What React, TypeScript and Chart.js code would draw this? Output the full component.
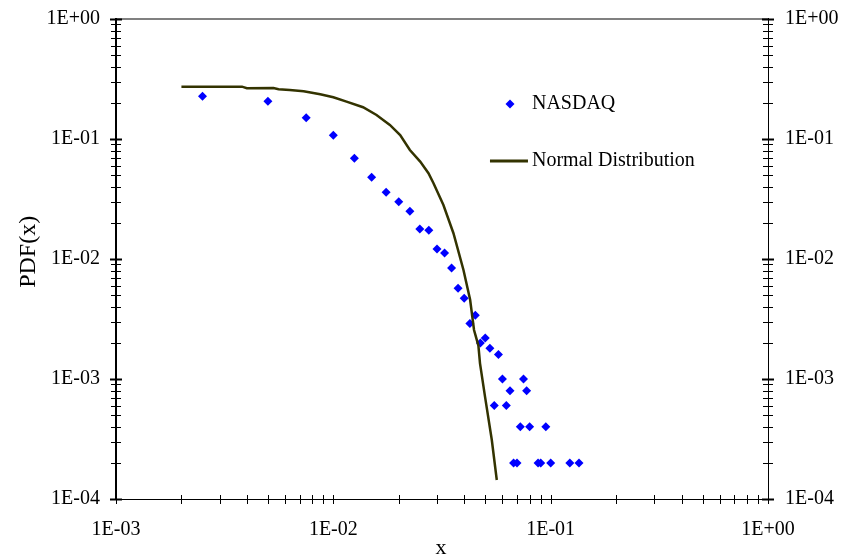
import React, { useEffect, useRef } from 'react';
import { Chart, registerables } from 'chart.js';

Chart.register(...registerables);

// ---- data ----
const nasdaqX = [
  0.0025, 0.005, 0.0075, 0.01, 0.0125, 0.015, 0.0175, 0.02, 0.0225, 0.025,
  0.0275, 0.03, 0.0325, 0.035, 0.0375, 0.04, 0.0425, 0.045, 0.0475, 0.05,
  0.0525, 0.055, 0.0575, 0.06, 0.0625, 0.065, 0.0675, 0.07, 0.0725, 0.075,
  0.0775, 0.08, 0.0875, 0.09, 0.095, 0.1, 0.1225, 0.135,
];
const nasdaqY = [
  0.227, 0.206, 0.1505, 0.1074, 0.069, 0.048, 0.036, 0.03, 0.025, 0.0178,
  0.0174, 0.0121, 0.0112, 0.0084, 0.0057, 0.0047, 0.0029, 0.0034, 0.002, 0.0022,
  0.0018, 0.0006, 0.0016, 0.001, 0.0006, 0.0008, 0.0002, 0.0002, 0.0004, 0.001,
  0.0008, 0.0004, 0.0002, 0.0002, 0.0004, 0.0002, 0.0002, 0.0002,
];
const normalX = [
  0.002, 0.0038, 0.004, 0.0053, 0.0056, 0.0063, 0.0073, 0.0087, 0.01, 0.0115,
  0.0137, 0.0158, 0.0182, 0.0203, 0.0225, 0.0251, 0.0274, 0.0289, 0.0321, 0.0357,
  0.0397, 0.0426, 0.0444, 0.0465, 0.0473, 0.0499, 0.0536, 0.0565,
];
const normalY = [
  0.273, 0.273, 0.265, 0.266, 0.26, 0.256, 0.25, 0.236, 0.223, 0.205,
  0.184, 0.1585, 0.131, 0.108, 0.081, 0.0648, 0.0519, 0.0428, 0.0282, 0.0164,
  0.0081, 0.00457, 0.00256, 0.0019, 0.00135, 0.00071, 0.00031, 0.000144,
];
const seriesNames = ['NASDAQ', 'Normal Distribution'];
const xTickValues = [1e-3, 1e-2, 1e-1, 1];
const yTickValues = [1e-4, 1e-3, 1e-2, 1e-1, 1];
const xTitle = 'x';
const yTitle = 'PDF(x)';

const FONT = "'Liberation Serif', 'Times New Roman', serif";
const BLUE = '#0000FF';
const OLIVE = '#333300';

const fmt = (v: number) => {
  const e = Math.round(Math.log10(v));
  const sign = e < 0 ? '-' : '+';
  return `1E${sign}${String(Math.abs(e)).padStart(2, '0')}`;
};

const decorPlugin = {
  id: 'decor',
  beforeDatasetsDraw(chart: any) {
    const { ctx, chartArea } = chart;
    const { left, right, top, bottom } = chartArea;
    const xs = chart.scales.x;
    const ys = chart.scales.y;
    ctx.save();
    // top border (gray)
    ctx.strokeStyle = '#808080';
    ctx.lineWidth = 2;
    ctx.beginPath();
    ctx.moveTo(left, top);
    ctx.lineTo(right, top);
    ctx.stroke();

    ctx.strokeStyle = '#000';
    // bottom axis
    ctx.lineWidth = 1;
    ctx.beginPath();
    ctx.moveTo(left, bottom + 0.5);
    ctx.lineTo(right, bottom + 0.5);
    ctx.stroke();
    // right axis
    ctx.beginPath();
    ctx.moveTo(right + 0.5, top - 1);
    ctx.lineTo(right + 0.5, bottom);
    ctx.stroke();
    // left axis
    ctx.lineWidth = 2;
    ctx.beginPath();
    ctx.moveTo(left, top - 1);
    ctx.lineTo(left, bottom + 1);
    ctx.stroke();

    const logVals = (min: number, max: number) => {
      const out: number[] = [];
      for (let e = Math.floor(Math.log10(min)); e <= Math.ceil(Math.log10(max)); e++) {
        for (let k = 1; k <= 9; k++) {
          const v = k * Math.pow(10, e);
          if (v >= min * 0.999 && v <= max * 1.001) out.push(v);
        }
      }
      return out;
    };

    ctx.lineWidth = 1;
    // x ticks
    for (const v of logVals(xs.min, xs.max)) {
      const p = Math.round(xs.getPixelForValue(v)) + 0.5;
      ctx.beginPath();
      ctx.moveTo(p, bottom - 4);
      ctx.lineTo(p, bottom + 5);
      ctx.stroke();
    }
    // y ticks on both axes
    for (const v of logVals(ys.min, ys.max)) {
      const p = Math.round(ys.getPixelForValue(v)) + 0.5;
      const major = Math.abs(Math.log10(v) - Math.round(Math.log10(v))) < 1e-6;
      const len = major ? 6 : 5;
      ctx.lineWidth = major ? 2 : 1;
      ctx.beginPath();
      ctx.moveTo(left - len, p);
      ctx.lineTo(left + len, p);
      ctx.stroke();
      ctx.beginPath();
      ctx.moveTo(right - len, p);
      ctx.lineTo(right + len, p);
      ctx.stroke();
    }
    ctx.restore();
  },
  afterDraw(chart: any) {
    const { ctx, chartArea } = chart;
    const { left, right, top, bottom } = chartArea;
    const w = right - left;
    const h = bottom - top;
    ctx.save();
    ctx.fillStyle = '#000';
    // axis titles
    ctx.font = `22px ${FONT}`;
    ctx.textAlign = 'center';
    ctx.textBaseline = 'alphabetic';
    ctx.fillText(xTitle, left + w * 0.5 - 1, 554);
    ctx.save();
    ctx.translate(35, top + h * 0.485);
    ctx.rotate(-Math.PI / 2);
    ctx.font = `24px ${FONT}`;
    ctx.fillText(yTitle, 0, 0);
    ctx.restore();

    // legend
    const lx = left + w * 0.638;
    const ly1 = top + h * 0.177;
    const ly2 = top + h * 0.296;
    ctx.font = `20px ${FONT}`;
    ctx.textAlign = 'left';
    ctx.textBaseline = 'middle';
    // NASDAQ marker
    const mx = lx - 22;
    ctx.fillStyle = BLUE;
    ctx.beginPath();
    ctx.moveTo(mx - 4.5, ly1);
    ctx.lineTo(mx, ly1 - 4.5);
    ctx.lineTo(mx + 4.5, ly1);
    ctx.lineTo(mx, ly1 + 4.5);
    ctx.closePath();
    ctx.fill();
    ctx.fillStyle = '#000';
    ctx.fillText(seriesNames[0], lx, ly1);
    // Normal line
    ctx.strokeStyle = OLIVE;
    ctx.lineWidth = 3;
    ctx.beginPath();
    ctx.moveTo(lx - 42, ly2);
    ctx.lineTo(lx - 4, ly2);
    ctx.stroke();
    ctx.fillText(seriesNames[1], lx, ly2);
    ctx.restore();
  },
};

export default function App() {
  const ref = useRef<HTMLCanvasElement | null>(null);
  useEffect(() => {
    if (!ref.current) return;
    const tickFont = { family: FONT, size: 20 };
    const chart = new Chart(ref.current, {
      type: 'scatter',
      data: {
        datasets: [
          {
            label: seriesNames[0],
            data: nasdaqX.map((x, i) => ({ x, y: nasdaqY[i] })),
            pointStyle: 'rectRot',
            pointRadius: 4.5,
            pointHoverRadius: 4.5,
            backgroundColor: BLUE,
            borderColor: BLUE,
            borderWidth: 0,
            showLine: false,
            order: 2,
          },
          {
            label: seriesNames[1],
            data: normalX.map((x, i) => ({ x, y: normalY[i] })),
            showLine: true,
            pointRadius: 0,
            pointHoverRadius: 0,
            borderColor: OLIVE,
            backgroundColor: OLIVE,
            borderWidth: 2.5,
            tension: 0,
            fill: false,
            order: 1,
          },
        ],
      } as any,
      options: {
        responsive: false,
        animation: false,
        devicePixelRatio: 1,
        layout: { padding: { top: 19, left: 0, right: 0, bottom: 0 } },
        plugins: { legend: { display: false }, tooltip: { enabled: false } },
        scales: {
          x: {
            type: 'logarithmic',
            position: 'bottom',
            min: 1e-3,
            max: 1,
            afterBuildTicks: (s: any) => {
              s.ticks = xTickValues.map((v) => ({ value: v }));
            },
            afterFit: (s: any) => {
              s.height = 61;
            },
            grid: { display: false, drawTicks: true, tickLength: 19 },
            border: { display: false },
            ticks: {
              padding: 0,
              color: '#000',
              font: tickFont,
              maxRotation: 0,
              autoSkip: false,
              callback: (v: any) => fmt(Number(v)),
            },
          },
          y: {
            type: 'logarithmic',
            position: 'left',
            min: 1e-4,
            max: 1,
            afterBuildTicks: (s: any) => {
              s.ticks = yTickValues.map((v) => ({ value: v }));
            },
            afterFit: (s: any) => {
              s.width = 116;
            },
            grid: { display: false, drawTicks: true, tickLength: 16 },
            border: { display: false },
            ticks: {
              padding: 0,
              color: '#000',
              font: tickFont,
              autoSkip: false,
              callback: (v: any) => fmt(Number(v)),
            },
          },
          y2: {
            type: 'logarithmic',
            position: 'right',
            min: 1e-4,
            max: 1,
            afterBuildTicks: (s: any) => {
              s.ticks = yTickValues.map((v) => ({ value: v }));
            },
            afterFit: (s: any) => {
              s.width = 73;
            },
            grid: { display: false, drawTicks: true, tickLength: 17 },
            border: { display: false },
            ticks: {
              padding: 0,
              color: '#000',
              font: tickFont,
              autoSkip: false,
              callback: (v: any) => fmt(Number(v)),
            },
          },
        },
      } as any,
      plugins: [decorPlugin],
    });
    return () => chart.destroy();
  }, []);
  return (
    <div style={{ position: 'absolute', left: 0, top: 0, width: 841, height: 560, background: '#fff' }}>
      <canvas ref={ref} width={841} height={560} style={{ display: 'block' }} />
    </div>
  );
}
